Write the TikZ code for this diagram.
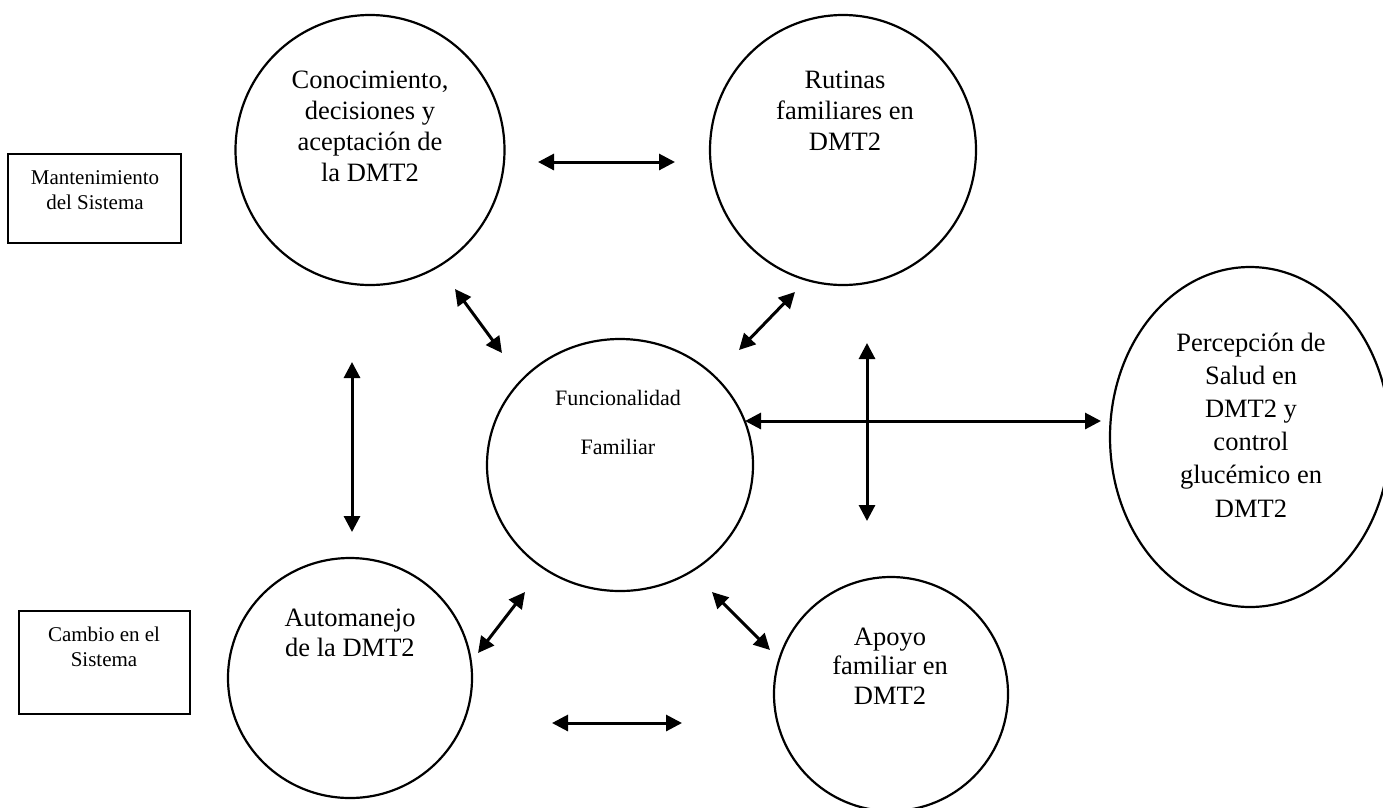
\documentclass[tikz,border=0pt]{standalone}
\usepackage{fontspec}
\setmainfont{Liberation Serif}
\usetikzlibrary{arrows.meta,shapes.geometric}
\begin{document}
\begin{tikzpicture}[x=1pt,y=-1pt,
  oval/.style={draw, ellipse, line width=2.2pt, inner sep=0pt},
  bigtxt/.style={align=center, font=\fontsize{26.5}{31}\selectfont, inner sep=0pt},
  boxtxt/.style={align=center, font=\fontsize{21}{25.5}\selectfont, inner sep=0pt},
  sysbox/.style={draw, line width=2pt, inner sep=0pt},
  link/.style={{Triangle[length=16pt,width=16pt]}-{Triangle[length=16pt,width=16pt]}, line width=3pt},
]
\useasboundingbox (0,0) rectangle (1383,807);

% system boxes
\node[sysbox, minimum width=173pt, minimum height=89pt] (mant) at (94.5,198.5) {};
\node[boxtxt] (manttxt) at (95,190) {Mantenimiento\\del Sistema};
\node[sysbox, minimum width=171pt, minimum height=103pt] (camb) at (104.5,662.5) {};
\node[boxtxt] (cambtxt) at (104,647) {Cambio en el\\Sistema};

% circles
\node[oval, minimum width=269pt, minimum height=270pt] (conoc) at (370,150) {};
\node[bigtxt] (conoctxt) at (370,126) {Conocimiento,\\decisiones y\\aceptación de\\la DMT2};

\node[oval, minimum width=266pt, minimum height=270pt] (rut) at (843,150) {};
\node[bigtxt] (ruttxt) at (845,111) {Rutinas\\familiares en\\DMT2};

\node[oval, minimum width=266pt, minimum height=252pt] (func) at (620,465) {};
\node[align=center, inner sep=0pt, font=\fontsize{22}{49}\selectfont] (functxt) at (618,422) {Funcionalidad\\Familiar};

\node[oval, minimum width=280pt, minimum height=340pt] (perc) at (1250,437) {};
\node[bigtxt, font=\fontsize{26.5}{33.2}\selectfont] (perctxt) at (1251,425) {Percepción de\\Salud en\\DMT2 y\\control\\glucémico en\\DMT2};

\node[oval, minimum width=244pt, minimum height=240pt] (auto) at (350,678) {};
\node[bigtxt, font=\fontsize{26.5}{30}\selectfont] (autotxt) at (350,633) {Automanejo\\de la DMT2};

\node[oval, minimum width=234pt, minimum height=234pt] (apoyo) at (891,694) {};
\node[bigtxt, font=\fontsize{26.5}{29.5}\selectfont] (apoyotxt) at (890,666) {Apoyo\\familiar en\\DMT2};

% connector ends
\coordinate (a1s) at (538,162); \coordinate (a1e) at (675,162);
\coordinate (a2s) at (455,289); \coordinate (a2e) at (502,353);
\coordinate (a3s) at (795,292); \coordinate (a3e) at (739,350);
\coordinate (a4s) at (352,362); \coordinate (a4e) at (352,532);
\coordinate (a5s) at (867,343); \coordinate (a5e) at (867,521);
\coordinate (a6s) at (745,421); \coordinate (a6e) at (1101,421);
\coordinate (a7s) at (478,653); \coordinate (a7e) at (525,592);
\coordinate (a8s) at (712,592); \coordinate (a8e) at (770,650);
\coordinate (a9s) at (552,723); \coordinate (a9e) at (682,723);

\draw[link] (a1s) -- (a1e);
\draw[link] (a2s) -- (a2e);
\draw[link] (a3s) -- (a3e);
\draw[link] (a4s) -- (a4e);
\draw[link] (a5s) -- (a5e);
\draw[link] (a6s) -- (a6e);
\draw[link] (a7s) -- (a7e);
\draw[link] (a8s) -- (a8e);
\draw[link] (a9s) -- (a9e);
\end{tikzpicture}
\end{document}
